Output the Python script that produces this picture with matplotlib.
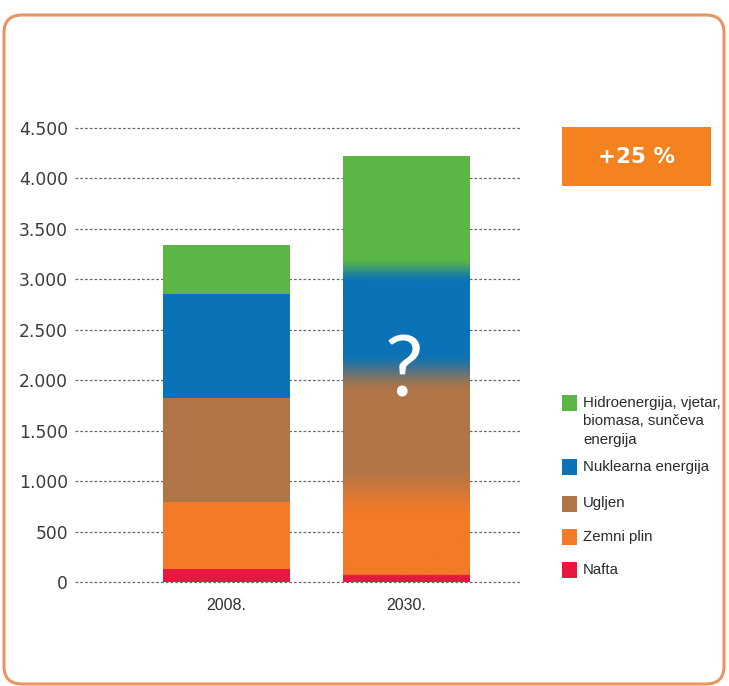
import numpy as np
import matplotlib
matplotlib.use("Agg")
import matplotlib.pyplot as plt
from matplotlib.patches import FancyBboxPatch, Rectangle
from matplotlib.colors import to_rgb

# ---- data -------------------------------------------------------------
years = ["2008.", "2030."]
sources = ["Nafta", "Zemni plin", "Ugljen", "Nuklearna energija",
           "Hidroenergija, vjetar,\nbiomasa, sunčeva\nenergija"]
values_2008 = [130, 665, 1030, 1030, 485]
values_2030 = [70, 840, 1170, 1010, 1130]
colors = ["#e8173d", "#f27a28", "#b07547", "#0a72b6", "#5cb646"]
# half-widths of the soft colour transitions in the 2030 column (above each segment)
blend_2030 = [0, 260, 200, 130]
yticks = [0, 500, 1000, 1500, 2000, 2500, 3000, 3500, 4000, 4500]
growth_label = "+25 %"

W, H = 729, 686
fig = plt.figure(figsize=(W / 100, H / 100), dpi=100)
fig.patch.set_facecolor("white")

# overlay in pixel coordinates for frame, legend and badge
ov = fig.add_axes([0, 0, 1, 1], zorder=0)
ov.set_xlim(0, W)
ov.set_ylim(H, 0)
ov.axis("off")
ov.add_patch(FancyBboxPatch((4, 15), W - 9, H - 17,
                            boxstyle="round,pad=0,rounding_size=18",
                            fc="white", ec="#ea9461", lw=2.2))

# ---- main chart -------------------------------------------------------
ax = fig.add_axes([75 / W, (H - 588) / H, 447 / W, 466 / H], zorder=2)
ax.patch.set_alpha(0)
for s in ax.spines.values():
    s.set_visible(False)
ax.set_yticks(yticks)
ax.set_yticklabels([f"{v:,}".replace(",", ".") for v in yticks],
                   fontsize=12.3, color="#3c3c3c", family="DejaVu Sans")
ax.tick_params(axis="y", length=0, pad=5)
ax.tick_params(axis="x", length=0, pad=7)
ax.set_xticks([0, 1])
ax.set_xticklabels(years, fontsize=11.5, color="#2e2e2e", family="Liberation Sans")
ax.grid(axis="y", color="#6a6a6a", lw=0.9, ls=(0, (2.2, 1.6)))
ax.set_axisbelow(True)

bw = 0.707
# 2008: plain stacked bar
bottom = 0
for v, c in zip(values_2008, colors):
    ax.bar(0, v, bw, bottom=bottom, color=c, zorder=3, lw=0)
    bottom += v

# 2030: stacked column with softened transitions
cum = np.cumsum(values_2030)
total = cum[-1]
yy = np.linspace(0, total, 1200)
rgb = np.array([to_rgb(c) for c in colors])
col = np.tile(rgb[0], (len(yy), 1))
for i, b in enumerate(cum[:-1]):
    w = blend_2030[i]
    if w == 0:
        t = (yy >= b).astype(float)
    else:
        t = np.clip((yy - (b - w)) / (2 * w), 0, 1)
        t = t * t * (3 - 2 * t)
    col = col * (1 - t[:, None]) + rgb[i + 1] * t[:, None]
img = col[::-1][:, None, :]
ax.imshow(img, extent=(1 - bw / 2, 1 + bw / 2, 0, total), aspect="auto",
          zorder=3, interpolation="bilinear")
ax.set_xlim(-0.844, 1.646)
ax.set_ylim(-60, 4560)
ax.text(0.985, 2000 + 75, "?", ha="center", va="center", color="white",
        fontsize=62, family=["Lato", "DejaVu Sans"], fontweight="normal", zorder=4)

# ---- growth badge -----------------------------------------------------
ov.add_patch(Rectangle((562, 127), 149, 59, fc="#f4821f", ec="none"))
ov.text(636, 157, growth_label, ha="center", va="center", color="white",
        fontsize=15.5, fontweight="bold", family="DejaVu Sans")

# ---- legend -----------------------------------------------------------
legend_y = [570, 537, 504, 467, 403]
for lab, c, y in zip(sources, colors, legend_y):
    ov.add_patch(Rectangle((562, y - 8), 15, 16, fc=c, ec="none"))
    ov.text(583, y - 7.5, lab, ha="left", va="top", fontsize=10.8,
            family="Liberation Sans", color="#2a2a2a", linespacing=1.42)

fig.savefig("out.png", dpi=100, facecolor="white")
